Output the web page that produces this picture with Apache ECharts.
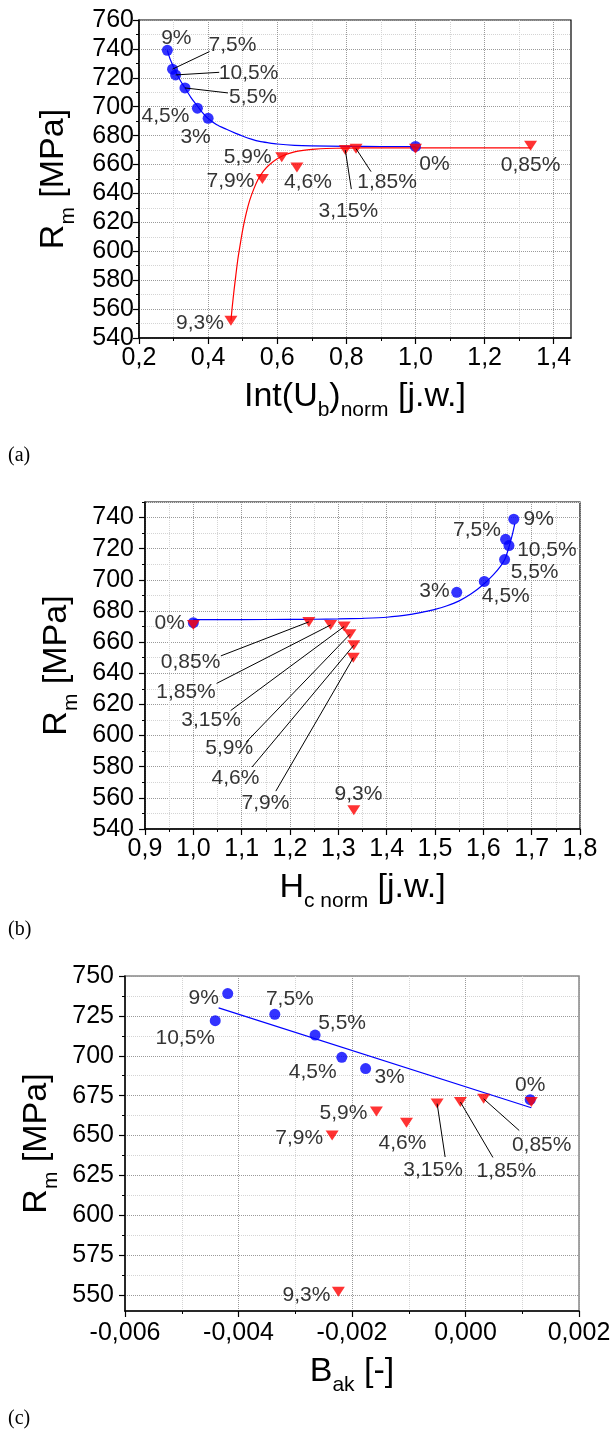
<!DOCTYPE html>
<html><head><meta charset="utf-8">
<script src="https://cdn.jsdelivr.net/npm/echarts@6/dist/echarts.min.js"></script>
<style>html,body{margin:0;padding:0;background:#fff}#c{width:614px;height:1431px}</style>
</head><body><div id="c"></div>
<script>
// ---------------- data ----------------
const blueLabels = ['9%','7,5%','10,5%','5,5%','4,5%','3%','0%'];
const blueRm = [739, 726, 722, 713, 699, 692, 672.5];
const redLabels = ['9,3%','7,9%','5,9%','4,6%','3,15%','1,85%','0,85%','0%'];
const redRm = [552, 650, 665, 658, 670, 671, 673, 671];

const intUbBlue = [0.282, 0.297, 0.306, 0.333, 0.369, 0.400, 1.0];
const intUbRed  = [0.466, 0.557, 0.613, 0.657, 0.797, 0.828, 1.333, 1.0];
const hcBlue = [1.663, 1.646, 1.653, 1.644, 1.602, 1.545, 1.0];
const hcRed  = [1.332, 1.331, 1.324, 1.332, 1.312, 1.284, 1.239, 1.0];
const bakBlue = [-0.00419, -0.00336, -0.00441, -0.00265, -0.00218, -0.00176, 0.00114];
const bakRed  = [-0.00224, -0.00235, -0.00157, -0.00104, -0.00050, -0.00009, 0.00032, 0.00116];

// fitted curves, points
const fitIntUbBlue = [[0.282,739],[0.290,733],[0.300,727.5],[0.310,722.5],[0.320,718],[0.333,713],[0.350,706.5],[0.369,700.5],[0.385,695.5],[0.400,691.8],[0.425,687.5],[0.453,684.4],[0.480,681.6],[0.501,679.6],[0.525,677.6],[0.549,676],[0.575,675],[0.600,674.2],[0.650,673.3],[0.700,672.9],[0.800,672.6],[0.900,672.5],[1.0,672.5]];
const fitIntUbRed = [[0.466,552],[0.470,562],[0.475,573],[0.480,583],[0.486,594.5],[0.493,605],[0.501,616],[0.510,626],[0.520,635],[0.532,643],[0.544,649.5],[0.560,655.5],[0.578,660],[0.600,664],[0.621,666.6],[0.650,668.8],[0.675,669.8],[0.710,670.7],[0.742,671.1],[0.800,671.4],[0.900,671.6],[1.0,671.6],[1.333,671.6]];
const fitHcBlue = [[1.0,674.5],[1.1,674.5],[1.2,674.6],[1.25,674.7],[1.3,674.9],[1.35,675.3],[1.4,676],[1.45,677.8],[1.475,679.3],[1.5,681],[1.525,683.4],[1.55,686.5],[1.575,691],[1.6,697],[1.62,703],[1.635,708.5],[1.645,713.5],[1.653,721],[1.66,729],[1.665,736]];
const fitBakBlue = [[-0.00435,730],[0.00116,667.4]];

// tick values
const ticksAXMajor = [0.2,0.4,0.6,0.8,1.0,1.2,1.4];
const ticksAXMinor = [0.3,0.5,0.7,0.9,1.1,1.3];
const ticksAYMajor = [540,560,580,600,620,640,660,680,700,720,740,760];
const ticksAYMinor = [550,570,590,610,630,650,670,690,710,730,750];
const ticksBXMajor = [0.9,1.0,1.1,1.2,1.3,1.4,1.5,1.6,1.7,1.8];
const ticksBXMinor = [0.95,1.05,1.15,1.25,1.35,1.45,1.55,1.65,1.75];
const ticksBYMajor = [540,560,580,600,620,640,660,680,700,720,740];
const ticksBYMinor = [550,570,590,610,630,650,670,690,710,730,750];
const ticksCXMajor = [-0.006,-0.004,-0.002,0,0.002];
const ticksCXMinor = [-0.005,-0.003,-0.001,0.001];
const ticksCYMajor = [550,575,600,625,650,675,700,725,750];
const ticksCYMinor = [562.5,587.5,612.5,637.5,662.5,687.5,712.5,737.5];

// ---------------- styling / layout ----------------
const FONT = '"Liberation Sans", Arial, sans-serif';
const BLUE = '#0000ff', RED = '#ff0000';
// label offsets (px) and arrow tails (px) relative to points
const labA = { blue: [[9,-12.5],[60,-24],[73,-2],[68,9],[-32,8],[-12.5,18.5],[19,18]],
               red:  [[-31,3],[-32,2],[-34,0],[11,15],[3,61],[31,34],[0,19],null] };
const arrA = [{s:'blue',i:1,t:[37,-17.6]},{s:'blue',i:2,t:[43.6,-2.6]},{s:'blue',i:3,t:[43,5]},
              {s:'red',i:4,t:[6,39]},{s:'red',i:5,t:[15,23]}];
const labB = { blue: [[25,0],[-28.6,-9],[38,5],[30,12.4],[21.5,14.6],[-22.3,-1],[-23.7,0.6]],
               red:  [[4.6,-15.7],[-87.8,145],[-120.7,114.3],[-118.3,133.4],[-133,94],[-144.6,66.7],[-118.3,40.7],null] };
const arrB = [{s:'red',i:6,t:[-88,34]},{s:'red',i:5,t:[-114,58.4]},{s:'red',i:4,t:[-113.5,84]},
              {s:'red',i:2,t:[-103.7,107.7]},{s:'red',i:3,t:[-101.7,121.7]},{s:'red',i:1,t:[-77.5,133.4]}];
const labC = { blue: [[-24,4.6],[15,-14.7],[-30,18],[27,-11.5],[-29,14.4],[24,9],[0,-14]],
               red:  [[-32,3],[-33,3],[-33,2],[-4,20.6],[-4,66.7],[46,68.7],[58,46.7],null] };
const arrC = [{s:'red',i:4,t:[8,53.4]},{s:'red',i:5,t:[32.5,55.4]},{s:'red',i:6,t:[35.6,31.7]}];

const rich = {
  t: {fontSize: 34, lineHeight: 34, fontFamily: FONT, color: '#000'},
  s: {fontSize: 21, lineHeight: 21, fontFamily: FONT, color: '#000', padding: [28,0,0,0]}
};

function fmt1(v){ return v.toFixed(1).replace('.', ','); }
function fmt3(v){ return (Math.abs(v) < 1e-12 ? 0 : v).toFixed(3).replace('.', ','); }
function fmt0(v){ return String(v); }

function axisPair(dim, g, o) {
  const main = {
    type: 'value', gridIndex: g, min: o.min, max: o.max,
    position: dim === 'x' ? 'bottom' : 'left',
    axisLine: {show: true, onZero: false, lineStyle: {color: '#000', width: 1.5}},
    axisTick: {show: true, inside: false, length: 6, customValues: o.major, lineStyle: {color: '#000', width: 1.2}},
    axisLabel: {show: true, customValues: o.major, formatter: o.fmt, margin: o.margin,
                fontSize: 25, color: '#000', fontFamily: FONT},
    splitLine: {show: true, lineStyle: {color: '#9a9a9a', type: 'dotted', width: 1}},
    name: o.name, nameLocation: 'middle', nameGap: o.nameGap,
    nameRotate: dim === 'y' ? 90 : 0,
    nameTextStyle: {rich: rich}
  };
  const minor = {
    type: 'value', gridIndex: g, min: o.min, max: o.max,
    position: dim === 'x' ? 'bottom' : 'left',
    axisLine: {show: false, onZero: false},
    axisTick: {show: true, inside: false, length: 3, customValues: o.minor, lineStyle: {color: '#000', width: 1}},
    axisLabel: {show: false},
    splitLine: {show: true, lineStyle: {color: '#d4d4d4', type: 'dotted', width: 1}}
  };
  return [main, minor];
}

const yName = '{t|R}{s|m}{t| [MPa]}';
const xAxes = [].concat(
  axisPair('x', 0, {min:0.2, max:1.45, major:ticksAXMajor, minor:ticksAXMinor, fmt:fmt1, margin:8,
    name:'{t|Int(U}{s|b}{t|)}{s|norm}{t| [j.w.]}', nameGap:36}),
  axisPair('x', 1, {min:0.9, max:1.8, major:ticksBXMajor, minor:ticksBXMinor, fmt:fmt1, margin:8,
    name:'{t|H}{s|c norm}{t| [j.w.]}', nameGap:33}),
  axisPair('x', 2, {min:-0.006, max:0.002, major:ticksCXMajor, minor:ticksCXMinor, fmt:fmt3, margin:10,
    name:'{t|B}{s|ak}{t| [-]}', nameGap:36})
);
const yAxes = [].concat(
  axisPair('y', 0, {min:540, max:760, major:ticksAYMajor, minor:ticksAYMinor, fmt:fmt0, margin:5, name:yName, nameGap:68}),
  axisPair('y', 1, {min:540, max:750, major:ticksBYMajor, minor:ticksBYMinor, fmt:fmt0, margin:11, name:yName, nameGap:60}),
  axisPair('y', 2, {min:540, max:750, major:ticksCYMajor, minor:ticksCYMinor, fmt:fmt0, margin:11, name:yName, nameGap:69})
);

function lineSeries(ai, data, color, smooth) {
  return {type:'line', xAxisIndex: ai, yAxisIndex: ai, data: data, symbol: 'none', showSymbol: false,
    smooth: smooth ? 0.25 : false, silent: true, z: 2,
    lineStyle: {color: color, width: 1.2}};
}
function scatterSeries(ai, xs, ys, names, offs, kind) {
  return {
    type: 'scatter', xAxisIndex: ai, yAxisIndex: ai, z: kind === 'red' ? 4 : 3,
    symbol: kind === 'red' ? 'triangle' : 'circle',
    symbolRotate: kind === 'red' ? 180 : 0,
    symbolSize: kind === 'red' ? [13, 10] : 11,
    itemStyle: {color: kind === 'red' ? RED : BLUE},
    label: {show: true, position: 'inside', formatter: '{b}', fontSize: 21, color: '#000', fontFamily: FONT},
    data: xs.map((x, i) => ({
      name: names[i], value: [x, ys[i]],
      label: offs[i] ? {show: true, offset: offs[i]} : {show: false}
    }))
  };
}

const series = [
  lineSeries(0, fitIntUbBlue, BLUE, true),
  lineSeries(0, fitIntUbRed, RED, true),
  scatterSeries(0, intUbBlue, blueRm, blueLabels, labA.blue, 'blue'),
  scatterSeries(0, intUbRed, redRm, redLabels, labA.red, 'red'),
  lineSeries(2, fitHcBlue, BLUE, true),
  scatterSeries(2, hcBlue, blueRm, blueLabels, labB.blue, 'blue'),
  scatterSeries(2, hcRed, redRm, redLabels, labB.red, 'red'),
  lineSeries(4, fitBakBlue, BLUE, false),
  scatterSeries(4, bakBlue, blueRm, blueLabels, labC.blue, 'blue'),
  scatterSeries(4, bakRed, redRm, redLabels, labC.red, 'red')
];

const option = {
  animation: false,
  backgroundColor: '#fff',
  grid: [
    {left: 139, top: 20, width: 432, height: 318, show: true, borderColor: '#000', borderWidth: 1.2},
    {left: 145, top: 502, width: 435, height: 327, show: true, borderColor: '#000', borderWidth: 1.2},
    {left: 125, top: 976, width: 454, height: 335, show: true, borderColor: '#888', borderWidth: 1.5}
  ],
  xAxis: xAxes,
  yAxis: yAxes,
  series: series,
  graphic: [
    {type: 'text', left: 8, top: 446, style: {text: '(a)', font: '20px "Liberation Serif", serif', fill: '#000'}},
    {type: 'text', left: 8, top: 920, style: {text: '(b)', font: '20px "Liberation Serif", serif', fill: '#000'}},
    {type: 'text', left: 8, top: 1409, style: {text: '(c)', font: '20px "Liberation Serif", serif', fill: '#000'}}
  ]
};

const chart = echarts.init(document.getElementById('c'), null, {renderer: 'canvas'});
chart.setOption(option);

// arrows: tails placed at pixel offsets from points, converted back through the axes
function arrowData(si, xs, ys, defs) {
  return defs.map(d => {
    const v = [xs[d.i], ys[d.i]];
    const p = chart.convertToPixel({seriesIndex: si}, v);
    const t = chart.convertFromPixel({seriesIndex: si}, [p[0] + d.t[0], p[1] + d.t[1]]);
    return [{coord: t}, {coord: v}];
  });
}
function markLine(data) {
  return {silent: true, symbol: ['none', 'arrow'], symbolSize: [0, 9], precision: 10,
    label: {show: false}, lineStyle: {color: '#000', width: 1, type: 'solid'}, animation: false,
    emphasis: {disabled: true}, data: data};
}
const upd = series.map(() => ({}));
upd[2] = {markLine: markLine(arrowData(2, intUbBlue, blueRm, arrA.filter(a => a.s === 'blue')))};
upd[3] = {markLine: markLine(arrowData(3, intUbRed, redRm, arrA.filter(a => a.s === 'red')))};
upd[6] = {markLine: markLine(arrowData(6, hcRed, redRm, arrB))};
upd[9] = {markLine: markLine(arrowData(9, bakRed, redRm, arrC))};
chart.setOption({series: upd});
</script>
</body></html>
